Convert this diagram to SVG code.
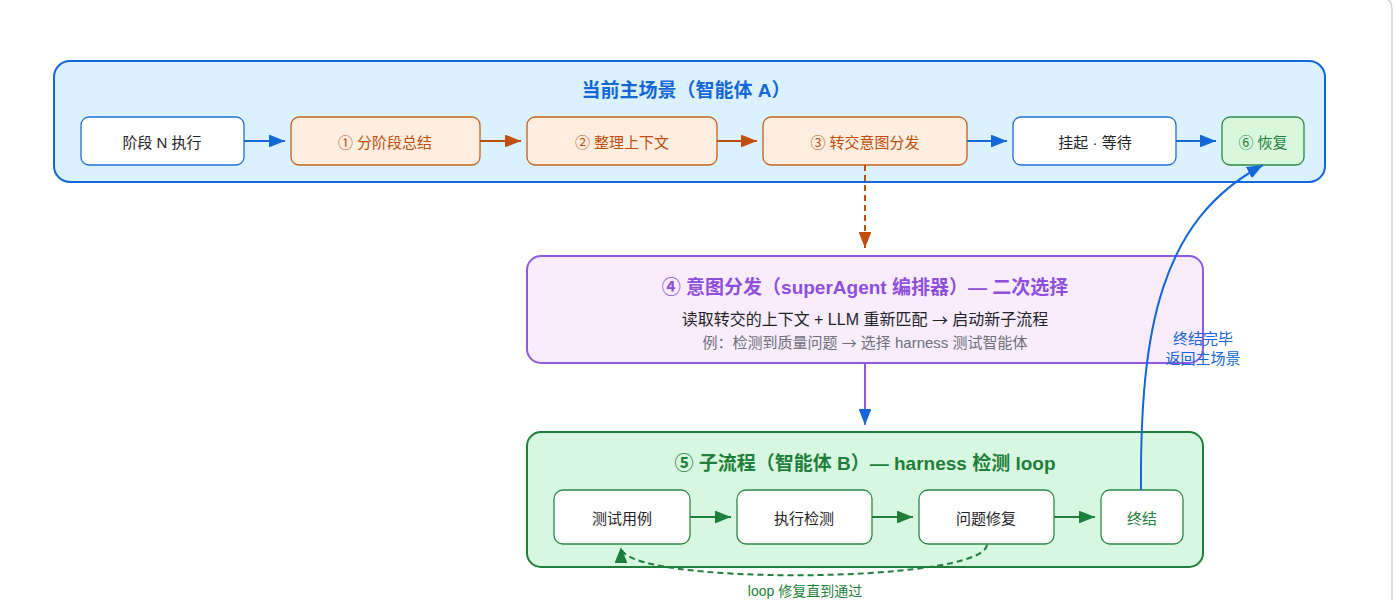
<svg xmlns="http://www.w3.org/2000/svg" width="1394" height="600" viewBox="0 0 1394 600">
<style>
text{font-family:"Liberation Sans","Noto Sans CJK SC",sans-serif;text-anchor:middle;dominant-baseline:central}
.t{font-size:15px;fill:#1f2328}
.ttl{font-size:19px;font-weight:bold}
.cj{font-family:"Noto Sans CJK SC",sans-serif}
.wn{fill:#ffffff;stroke:#1f6fd6;stroke-width:1.3}
.on{fill:#fdeee0;stroke:#c5611d;stroke-width:1.3}
.gn{fill:#d8f7dd;stroke:#2a8a46;stroke-width:1.3}
.wg{fill:#ffffff;stroke:#2a8a46;stroke-width:1.3}
.ln{fill:none;stroke-width:2}
</style>
<defs>
<marker id="ab" viewBox="0 0 10 8" refX="10" refY="4" markerWidth="8" markerHeight="6.4" orient="auto" markerUnits="strokeWidth"><path d="M0,0L10,4L0,8z" fill="#1467d8"/></marker>
<marker id="ao" viewBox="0 0 10 8" refX="10" refY="4" markerWidth="8" markerHeight="6.4" orient="auto" markerUnits="strokeWidth"><path d="M0,0L10,4L0,8z" fill="#c04f0c"/></marker>
<marker id="ag" viewBox="0 0 10 8" refX="10" refY="4" markerWidth="8" markerHeight="6.4" orient="auto" markerUnits="strokeWidth"><path d="M0,0L10,4L0,8z" fill="#1e7f3a"/></marker>
</defs>
<rect x="0" y="0" width="1394" height="600" fill="#ffffff"/>
<path d="M1388,0 Q1392,2 1392,10 L1392,600" fill="none" stroke="#c8ccd6" stroke-width="1.2"/>

<g id="main">
<rect x="54" y="61" width="1271" height="121" rx="16" fill="#dbf1fd" stroke="#1467d8" stroke-width="2"/>
<text x="686" y="90" class="ttl" fill="#1467d8">当前主场景（智能体 A）</text>
</g>
<g id="n-stageN"><rect x="81" y="117" width="163" height="48" rx="8" class="wn"/><text x="162" y="142" class="t">阶段 N 执行</text></g>
<g id="n-sum"><rect x="291" y="117" width="189" height="48" rx="8" class="on"/><text x="385" y="142" class="t" style="fill:#c04f0c">① 分阶段总结</text></g>
<g id="n-ctx"><rect x="527" y="117" width="190" height="48" rx="8" class="on"/><text x="622" y="142" class="t" style="fill:#c04f0c">② 整理上下文</text></g>
<g id="n-handoff"><rect x="763" y="117" width="204" height="48" rx="8" class="on"/><text x="865" y="142" class="t" style="fill:#c04f0c">③ 转交意图分发</text></g>
<g id="n-wait"><rect x="1013" y="117" width="163" height="48" rx="8" class="wn"/><text x="1095" y="142" class="t">挂起 · 等待</text></g>
<g id="n-resume"><rect x="1222" y="117" width="82" height="48" rx="8" class="gn"/><text x="1263" y="142" class="t" style="fill:#1e7f3a">⑥ 恢复</text></g>

<g id="n-dispatch">
<rect x="527" y="256" width="676" height="107" rx="14" fill="#f8ecfd" stroke="#8e5ae0" stroke-width="2"/>
<text x="865" y="287" class="ttl" fill="#8e4fdc">④ 意图分发（superAgent 编排器）— 二次选择</text>
<text x="865" y="319" style="font-size:16px" fill="#1f2328">读取转交的上下文 + LLM 重新匹配 <tspan class="cj">→</tspan> 启动新子流程</text>
<text x="865" y="342" style="font-size:15px" fill="#6f6f78">例：检测到质量问题 <tspan class="cj">→</tspan> 选择 harness 测试智能体</text>
</g>

<g id="sub">
<rect x="527" y="432" width="676" height="135" rx="14" fill="#d8f7e0" stroke="#1e7f3a" stroke-width="2"/>
<text x="865" y="463" class="ttl" fill="#1e7f3a">⑤ 子流程（智能体 B）— harness 检测 loop</text>
</g>
<g id="n-case"><rect x="554" y="490" width="136" height="54" rx="9" class="wg"/><text x="622" y="518" class="t">测试用例</text></g>
<g id="n-exec"><rect x="737" y="490" width="135" height="54" rx="9" class="wg"/><text x="804" y="518" class="t">执行检测</text></g>
<g id="n-fix"><rect x="919" y="490" width="135" height="54" rx="9" class="wg"/><text x="986" y="518" class="t">问题修复</text></g>
<g id="n-end"><rect x="1101" y="490" width="82" height="54" rx="9" class="wg"/><text x="1142" y="518" class="t" style="fill:#1e7f3a">终结</text></g>

<g id="connectors">
<line x1="244" y1="141" x2="285" y2="141" class="ln" stroke="#1467d8" marker-end="url(#ab)"/>
<line x1="480" y1="141" x2="521" y2="141" class="ln" stroke="#c04f0c" marker-end="url(#ao)"/>
<line x1="717" y1="141" x2="757" y2="141" class="ln" stroke="#c04f0c" marker-end="url(#ao)"/>
<line x1="967" y1="141" x2="1007" y2="141" class="ln" stroke="#1467d8" marker-end="url(#ab)"/>
<line x1="1176" y1="141" x2="1216" y2="141" class="ln" stroke="#1467d8" marker-end="url(#ab)"/>
<line x1="865" y1="165" x2="865" y2="248" class="ln" stroke="#c04f0c" stroke-dasharray="6,4" marker-end="url(#ao)"/>
<line x1="865" y1="363" x2="865" y2="425" class="ln" stroke="#8e5ae0" marker-end="url(#ab)"/>
<line x1="690" y1="517" x2="731" y2="517" class="ln" stroke="#1e7f3a" marker-end="url(#ag)"/>
<line x1="872" y1="517" x2="913" y2="517" class="ln" stroke="#1e7f3a" marker-end="url(#ag)"/>
<line x1="1054" y1="517" x2="1095" y2="517" class="ln" stroke="#1e7f3a" marker-end="url(#ag)"/>
<path d="M987,545 C982,584 621,586 621,547" class="ln" stroke="#1e7f3a" stroke-dasharray="6,4" marker-end="url(#ag)"/>
<text x="805" y="591" style="font-size:14px" fill="#1e7f3a">loop 修复直到通过</text>
<path d="M1141,490 C1140,330 1160,220 1263,165" class="ln" stroke="#1467d8" stroke-width="2.5" marker-end="url(#ab)"/>
<text x="1203" y="338" style="font-size:15px" fill="#1467d8">终结完毕</text>
<text x="1203" y="358" style="font-size:15px" fill="#1467d8">返回主场景</text>
</g>
</svg>
